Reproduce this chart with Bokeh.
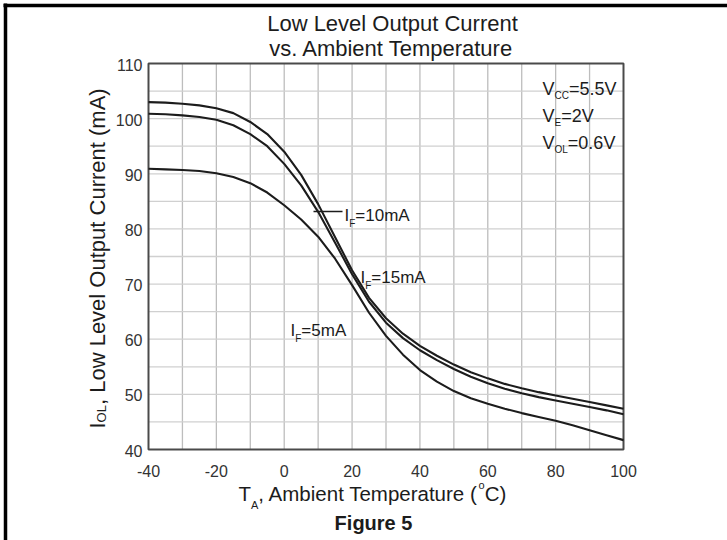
import math
from bokeh.plotting import figure
from bokeh.models import Range1d, Label
from bokeh.core.properties import value
from bokeh.embed import file_html
from bokeh.resources import INLINE

# ---------------- data ----------------
temps = [-40, -35, -30, -25, -20, -15, -10, -5, 0, 5, 10, 15, 20, 25, 30,
         35, 40, 45, 50, 55, 60, 65, 70, 75, 80, 85, 90, 95, 100]
iol_if15 = [103.0, 102.9, 102.7, 102.4, 101.9, 101.0, 99.4, 97.2, 94.0, 89.8,
            84.5, 78.5, 72.5, 67.5, 63.8, 61.0, 58.8, 57.0, 55.4, 54.0, 52.9,
            51.9, 51.1, 50.4, 49.8, 49.2, 48.6, 48.0, 47.4]
iol_if10 = [100.9, 100.8, 100.6, 100.3, 99.8, 98.8, 97.2, 95.0, 91.8, 87.9,
            83.1, 77.5, 71.8, 66.8, 63.0, 60.2, 58.0, 56.2, 54.6, 53.2, 52.0,
            51.0, 50.2, 49.5, 48.9, 48.3, 47.7, 47.1, 46.4]
iol_if5 = [90.9, 90.8, 90.7, 90.5, 90.1, 89.4, 88.3, 86.6, 84.3, 81.7,
           78.6, 74.6, 69.8, 64.8, 60.6, 57.2, 54.4, 52.3, 50.6, 49.3, 48.3,
           47.4, 46.6, 45.9, 45.2, 44.4, 43.5, 42.6, 41.7]
x_ticks = [-40, -20, 0, 20, 40, 60, 80, 100]
x_tick_labels = ["-40", "-20", "0", "20", "40", "60", "80", "100"]
y_ticks = [40, 50, 60, 70, 80, 90, 100, 110]
y_tick_labels = ["40", "50", "60", "70", "80", "90", "100", "110"]
x_grid = [-30, -20, -10, 0, 10, 20, 30, 40, 50, 60, 70, 80, 90]
y_grid = [45, 50, 55, 60, 65, 70, 75, 80, 85, 90, 95, 100, 105]

# ---------------- layout ----------------
W, H = 727, 540
BL, BR, BT, BB = 148, 104, 63, 91          # chart box margins in pixels
X0, X1, Y0, Y1 = -40, 100, 40, 110
FW, FH = W - BL - BR, H - BT - BB
FONT = "Liberation Sans"
INK = "#1c1c1c"


def dx(px):
    return X0 + (px - BL) * (X1 - X0) / FW


def dy(py):
    return Y1 - (py - BT) * (Y1 - Y0) / FH


AW = {'A': 667, 'B': 667, 'C': 722, 'D': 722, 'E': 667, 'F': 611, 'G': 778, 'H': 722,
      'I': 278, 'J': 500, 'K': 667, 'L': 556, 'M': 833, 'N': 722, 'O': 778, 'P': 667,
      'Q': 778, 'R': 722, 'S': 667, 'T': 611, 'U': 722, 'V': 667, 'W': 944, 'X': 667,
      'Y': 667, 'Z': 611, 'a': 556, 'b': 556, 'c': 500, 'd': 556, 'e': 556, 'f': 278,
      'g': 556, 'h': 556, 'i': 222, 'j': 222, 'k': 500, 'l': 222, 'm': 833, 'n': 556,
      'o': 556, 'p': 556, 'q': 556, 'r': 333, 's': 500, 't': 278, 'u': 556, 'v': 500,
      'w': 722, 'x': 500, 'y': 500, 'z': 500, '(': 333, ')': 333, ',': 278, '.': 278,
      ' ': 278, '=': 584, '-': 333}


def tw(s, size):
    return sum(AW.get(c, 556) for c in s) * size / 1000.0


# the frame covers the whole canvas; the data ranges are set so that the
# chart box (-40..100, 40..110) sits where it does in the reference
p = figure(width=W, height=H,
           x_range=Range1d(dx(0), dx(W)), y_range=Range1d(dy(H), dy(0)),
           output_backend="svg", toolbar_location=None,
           x_axis_location=None, y_axis_location=None,
           min_border=0, min_border_left=0, min_border_right=0,
           min_border_top=0, min_border_bottom=0)
p.title.visible = False
p.grid.visible = False
p.outline_line_color = None
p.background_fill_color = "white"
p.border_fill_color = "white"

# grid
p.segment(x0=x_grid, y0=[Y0] * len(x_grid), x1=x_grid, y1=[Y1] * len(x_grid),
          line_color="#bdbdbd", line_width=1.3)
p.segment(x0=[X0] * len(y_grid), y0=y_grid, x1=[X1] * len(y_grid), y1=y_grid,
          line_color="#d0d0d0", line_width=1.3)

# chart box
p.quad(left=[X0], right=[X1], bottom=[Y0], top=[Y1], fill_color=None,
       line_color="#4a4a4a", line_width=2)

# curves
for series in (iol_if15, iol_if10, iol_if5):
    p.line(temps, series, line_color=INK, line_width=2.1)

# tick labels
p.text(x=x_ticks, y=[dy(470)] * len(x_ticks), text=x_tick_labels,
       text_font=value(FONT), text_font_size=value("16px"), text_color="#333333",
       text_align="center", text_baseline="alphabetic")
p.text(x=[dx(142)] * len(y_ticks), y=y_ticks, text=y_tick_labels,
       text_font=value(FONT), text_font_size=value("16px"), text_color="#333333",
       text_align="right", text_baseline="middle", y_offset=1)


def runs(px, py, parts, angle=0.0):
    """parts: list of (text, size, baseline shift px, extra advance px)"""
    pos = 0.0
    for text, size, shift, extra in parts:
        pos += extra
        if angle == 0.0:
            x, y = px + pos, py + shift
        else:
            x, y = px + shift, py - pos
        p.add_layout(Label(x=dx(x), y=dy(y), text=text, text_font=FONT,
                           text_font_size=f"{size}px", text_color=INK,
                           text_align="left", text_baseline="alphabetic",
                           angle=angle))
        pos += tw(text, size)


def centered(text, cx, py, size, bold=False):
    p.add_layout(Label(x=dx(cx), y=dy(py), text=text, text_font=FONT,
                       text_font_size=f"{size}px", text_color=INK,
                       text_font_style="bold" if bold else "normal",
                       text_align="center", text_baseline="alphabetic"))


# titles
centered("Low Level Output Current", 392, 23, 22)
centered("vs. Ambient Temperature", 391, 48, 22)
centered("Figure 5", 373, 522, 20, bold=True)

# x axis title
runs(238, 493, [("T", 20.5, 0, 0), ("A", 11, 11, 0),
                (", Ambient Temperature (", 20.5, 0, 0), ("o", 11, -9, -2),
                ("C)", 20.5, 0, 0)])

# y axis title (rotated)
runs(97, 428, [("I", 22, 0, 0), ("OL", 13, 4, 0),
               (", Low Level Output Current (mA)", 22, 0, 0)], angle=math.pi / 2)

# condition box
runs(542, 88, [("V", 18, 0, 0), ("CC", 10, 7, 0), ("=5.5V", 18, 0, 0)])
runs(542, 115, [("V", 18, 0, 0), ("E", 10, 7, 0), ("=2V", 18, 0, 0)])
runs(542, 142, [("V", 18, 0, 0), ("OL", 10, 7, 0), ("=0.6V", 18, 0, 0)])

# curve labels
runs(344, 215, [("I", 17, 0, 0), ("F", 10, 8, 0), ("=10mA", 17, 0, 0)])
runs(360, 277, [("I", 17, 0, 0), ("F", 10, 8, 0), ("=15mA", 17, 0, 0)])
runs(290, 330, [("I", 17, 0, 0), ("F", 10, 8, 0), ("=5mA", 17, 0, 0)])

# leader line for IF=10mA
p.segment(x0=[dx(313)], y0=[dy(211)], x1=[dx(342)], y1=[dy(211)],
          line_color=INK, line_width=1.3)

# page frame lines (top and left)
p.segment(x0=[dx(3), dx(5)], y0=[dy(5), dy(3)], x1=[dx(727), dx(5)], y1=[dy(5), dy(540)],
          line_color="black", line_width=3.5)

open("out.html", "w").write(file_html(p, INLINE))
